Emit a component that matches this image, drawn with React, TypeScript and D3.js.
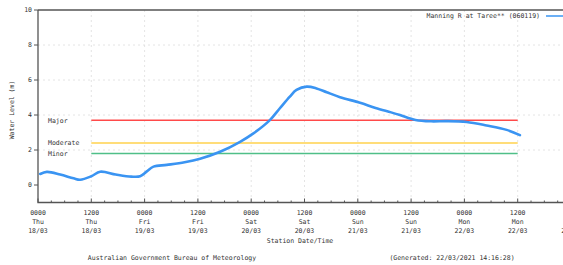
import React from 'react'
import * as d3 from 'd3'

// hours since 0000 Thu 18/03, water level in metres
const hours = [0.5, 2, 5, 8, 9.5, 12, 14, 17.5, 21, 23, 24.5, 26, 29, 33, 36.5, 41, 45.5, 48.5, 52.2, 54.5, 56.7, 58.2, 60.5, 62.7, 65, 68, 72.5, 76, 79.5, 81.5, 85, 88.5, 92, 96.5, 101, 105.5, 108.5]
const levels = [0.63, 0.75, 0.6, 0.38, 0.3, 0.5, 0.76, 0.6, 0.48, 0.5, 0.78, 1.05, 1.15, 1.3, 1.5, 1.9, 2.47, 2.95, 3.71, 4.4, 5.05, 5.43, 5.62, 5.52, 5.3, 5.02, 4.7, 4.4, 4.15, 4.0, 3.72, 3.64, 3.65, 3.6, 3.4, 3.15, 2.85]

const tickHours = [0, 12, 24, 36, 48, 60, 72, 84, 96, 108, 120]
const tickTimes = ['0000', '1200', '0000', '1200', '0000', '1200', '0000', '1200', '0000', '1200', '0000']
const tickDays = ['Thu', 'Thu', 'Fri', 'Fri', 'Sat', 'Sat', 'Sun', 'Sun', 'Mon', 'Mon', 'Tue']
const tickDates = ['18/03', '18/03', '19/03', '19/03', '20/03', '20/03', '21/03', '21/03', '22/03', '22/03', '23/03']
const yTicks = [0, 2, 4, 6, 8, 10]

const floodNames = ['Major', 'Moderate', 'Minor']
const floodLevels = [3.7, 2.4, 1.8]
const floodColors = ['#ff4a4a', '#ffd24d', '#4fbf88']

const font = '"DejaVu Sans Mono", monospace'

const App = () => {
  const width = 563
  const height = 265
  const x = d3.scaleLinear().domain([0, 120]).range([38, 571])
  const y = d3.scaleLinear().domain([-1, 10]).range([202.5, 10])

  const line = d3.line<number>()
    .x((d, i) => x(hours[i]))
    .y(d => y(d))
    .curve(d3.curveCatmullRom)

  const minorTicks = d3.range(0, 121, 3).filter(h => h % 12 !== 0)

  return (
    <svg width={width} height={height} style={{ position: 'absolute', left: 0, top: 0, background: '#fff' }}
      fontFamily={font} fontSize={6.5} fill="#333">
      {/* grid */}
      {yTicks.slice(1, -1).map(v => (
        <line key={'gy' + v} x1={x(0)} x2={width} y1={y(v)} y2={y(v)} stroke="#ddd" strokeDasharray="2,3" strokeWidth={0.8} />
      ))}
      {tickHours.slice(1).map(h => (
        <line key={'gx' + h} x1={x(h)} x2={x(h)} y1={y(10)} y2={y(-1)} stroke="#ddd" strokeDasharray="2,3" strokeWidth={0.8} />
      ))}

      {/* flood levels */}
      {floodLevels.map((v, i) => (
        <g key={floodNames[i]}>
          <line x1={x(12)} x2={x(108)} y1={y(v)} y2={y(v)} stroke={floodColors[i]} strokeWidth={1.3} />
          <text x={48} y={y(v)} dy="0.35em">{floodNames[i]}</text>
        </g>
      ))}

      {/* frame */}
      <path d={`M${x(0)},${y(10)}H${width}M${x(0)},${y(10)}V${y(-1)}H${width}`} fill="none" stroke="#555" strokeWidth={1.3} />

      {/* y axis */}
      {yTicks.map(v => (
        <g key={'yt' + v}>
          <line x1={x(0) - 4} x2={x(0)} y1={y(v)} y2={y(v)} stroke="#555" />
          <text x={x(0) - 6} y={y(v)} dy="0.35em" textAnchor="end">{v}</text>
        </g>
      ))}
      <text transform={`translate(14,110) rotate(-90)`} textAnchor="middle">Water Level (m)</text>

      {/* x axis */}
      {minorTicks.map(h => (
        <line key={'mt' + h} x1={x(h)} x2={x(h)} y1={y(-1)} y2={y(-1) - 2} stroke="#555" />
      ))}
      {tickHours.map((h, i) => (
        <g key={'xt' + h} textAnchor="middle">
          <line x1={x(h)} x2={x(h)} y1={y(-1)} y2={y(-1) - 4} stroke="#555" />
          <text x={x(h)} y={215}>{tickTimes[i]}</text>
          <text x={x(h)} y={224}>{tickDays[i]}</text>
          <text x={x(h)} y={233}>{tickDates[i]}</text>
        </g>
      ))}
      <text x={300} y={243} textAnchor="middle">Station Date/Time</text>

      {/* series */}
      <path d={line(levels) ?? ''} fill="none" stroke="#3a94f2" strokeWidth={2.6} strokeLinejoin="round" strokeLinecap="round" />

      {/* legend */}
      <text x={540} y={18} textAnchor="end">Manning R at Taree** (060119)</text>
      <line x1={546} x2={563} y1={16} y2={16} stroke="#3a94f2" strokeWidth={1.5} />

      <text x={172} y={260} textAnchor="middle">Australian Government Bureau of Meteorology</text>
      <text x={452} y={260} textAnchor="middle">(Generated: 22/03/2021 14:16:28)</text>
    </svg>
  )
}

export default App
